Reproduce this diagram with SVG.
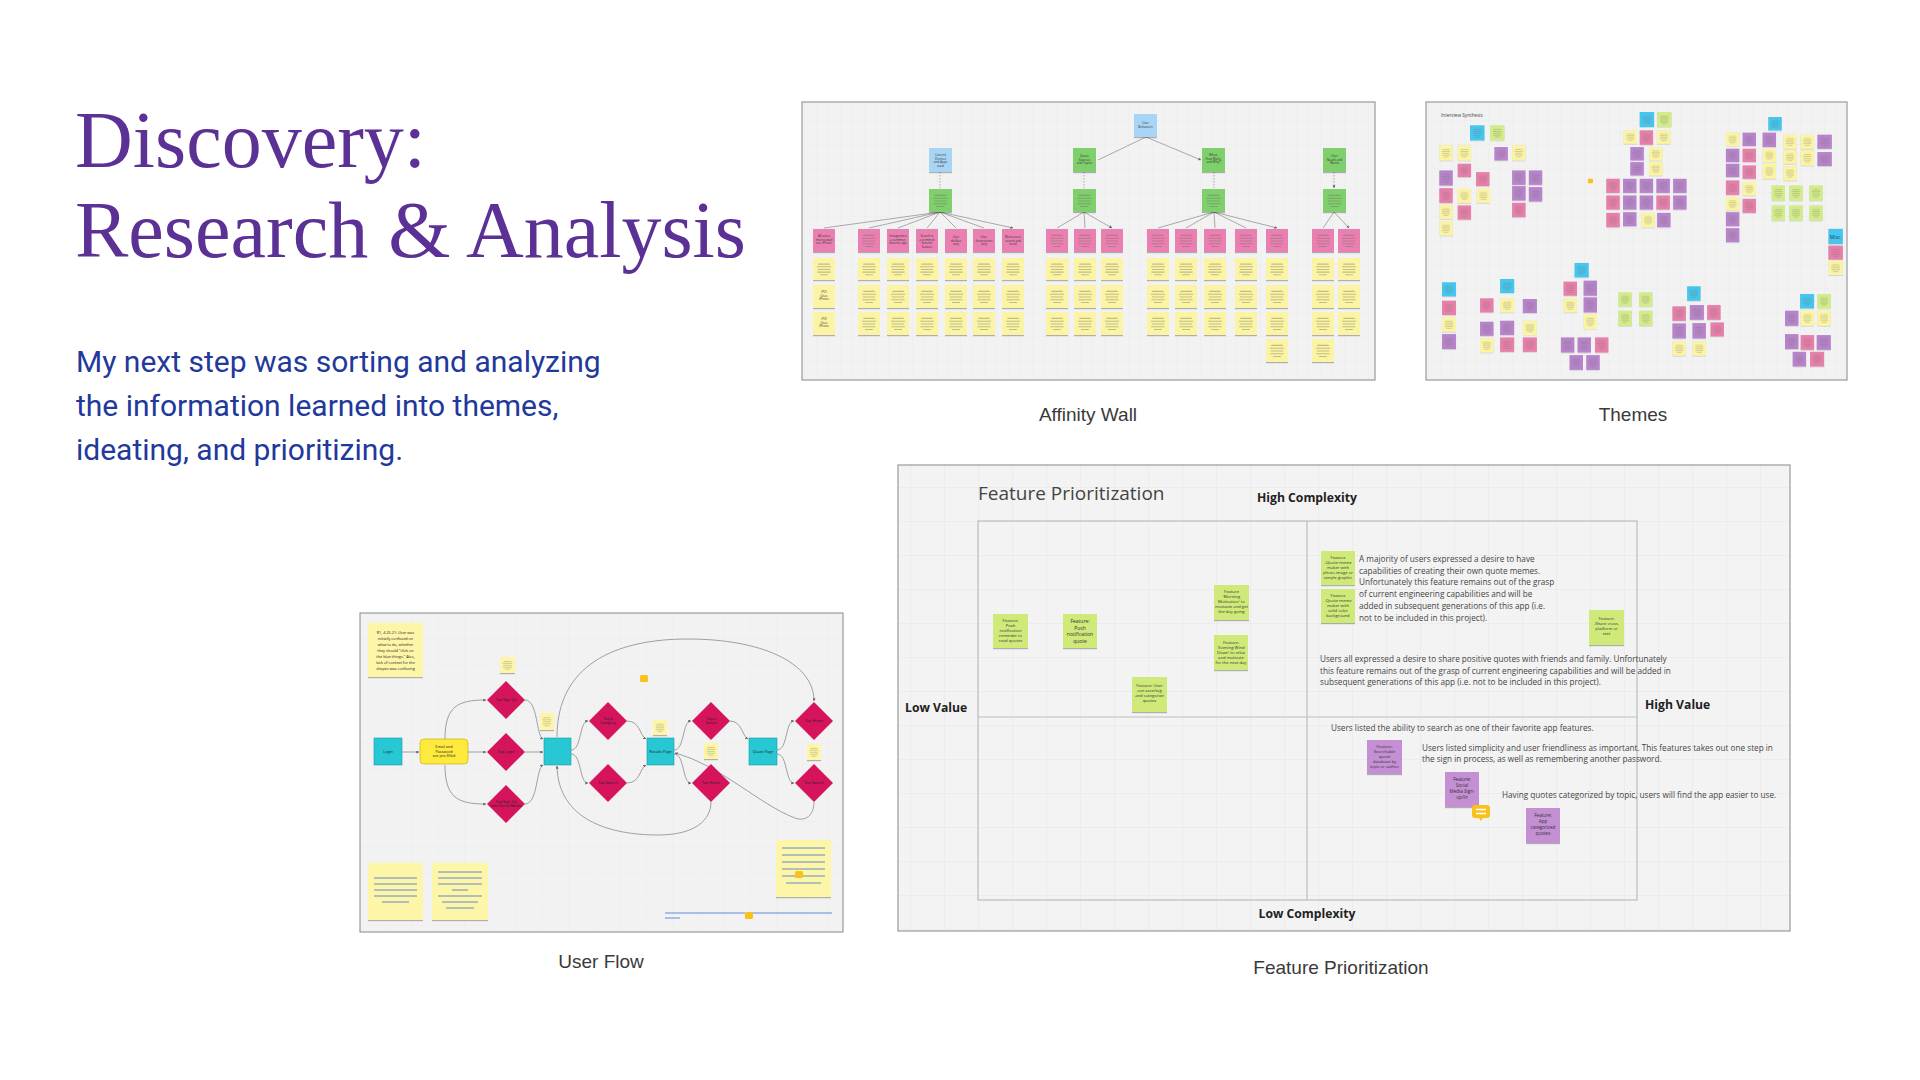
<svg xmlns="http://www.w3.org/2000/svg" width="1920" height="1080" viewBox="0 0 1920 1080">
<defs>
<style>
.title{font-family:"Liberation Serif","DejaVu Serif",serif;font-size:80px;fill:#5b3195}
.body{font-family:Roboto,"Liberation Sans",sans-serif;font-size:30px;fill:#22389b}
.cap{font-family:"Liberation Sans",Arial,sans-serif;font-size:19px;fill:#3a3a3a;text-anchor:middle}
.frame{stroke:#9a9a9a;stroke-width:1.2}
.fp{font-family:"Open Sans","Liberation Sans",sans-serif;fill:#444}
.fpb{font-family:"Open Sans","Liberation Sans",sans-serif;font-weight:700;font-size:12.2px;fill:#222}
.para{font-family:"Open Sans","Liberation Sans",sans-serif;font-size:8.2px;fill:#444}
.st{font-family:"Open Sans","Liberation Sans",sans-serif;font-size:4.2px;fill:#333;text-anchor:middle}
.uft{font-family:"Open Sans","Liberation Sans",sans-serif;font-size:3.8px;fill:#222;text-anchor:middle}
.aft{font-family:"Open Sans","Liberation Sans",sans-serif;font-size:3.1px;fill:#333;text-anchor:middle}
.g{fill:#d0ea7a}
.pu{fill:#c58fd3}
.dia{fill:#d6145c}
.sq{fill:#27c7d4;stroke:#1a9aa6;stroke-width:0.6}
.yn{fill:#fdf5a7}
.conn{fill:none;stroke:#8a8a8a;stroke-width:0.8}
.aconn{fill:none;stroke:#777;stroke-width:0.6}
.ab{fill:#a8d4f5}.agr{fill:#7fcf6c}
.tc{fill:var(--t1,#45c6ef)}.tg{fill:var(--t2,#d3ec8a)}.ty{fill:var(--t3,#fbf4a4)}.tp{fill:var(--t4,#b784cc)}.tk{fill:var(--t5,#e77fab)}
.link{stroke:#3f6fd6;stroke-width:0.8}
</style>
<filter id="sh" x="-20%" y="-20%" width="140%" height="150%"><feDropShadow dx="0" dy="1.2" stdDeviation="0.7" flood-color="#000" flood-opacity="0.28"/></filter>
<pattern id="txt" patternUnits="objectBoundingBox" patternContentUnits="objectBoundingBox" width="1" height="1"><path d="M0.24 0.28H0.76M0.18 0.4H0.82M0.22 0.52H0.78M0.2 0.64H0.8M0.32 0.76H0.68" stroke="#6f6a5a" stroke-opacity="0.4" stroke-width="0.05"/></pattern>
<pattern id="gridFP" width="34" height="34" patternUnits="userSpaceOnUse" x="978" y="521"><rect width="34" height="34" fill="#f3f3f3"/><path d="M0 0H34M0 0V34" stroke="#e2e2e2" stroke-width="0.8"/></pattern>
<pattern id="gridS" width="12" height="12" patternUnits="userSpaceOnUse"><rect width="12" height="12" fill="#f2f2f2"/><path d="M0 0H12M0 0V12" stroke="#e6e6e6" stroke-width="0.5"/></pattern>
<pattern id="gridUF" width="26" height="26" patternUnits="userSpaceOnUse" x="360" y="613"><rect width="26" height="26" fill="#f2f2f2"/><path d="M0 0H26M0 0V26" stroke="#e7e7e7" stroke-width="0.6"/></pattern>
<marker id="ah" viewBox="0 0 6 6" refX="5.5" refY="3" markerWidth="3" markerHeight="3" orient="auto" markerUnits="userSpaceOnUse"><path d="M0 0L6 3L0 6Z" fill="#666"/></marker>
<g id="apkT">
<rect x="858" y="229" width="22" height="23"/>
<rect x="1046" y="229" width="22" height="23"/><rect x="1074" y="229" width="22" height="23"/><rect x="1101" y="229" width="22" height="23"/>
<rect x="1147" y="229" width="22" height="23"/><rect x="1175" y="229" width="22" height="23"/><rect x="1204" y="229" width="22" height="23"/><rect x="1235" y="229" width="22" height="23"/><rect x="1266" y="229" width="22" height="23"/>
<rect x="1312" y="229" width="22" height="23"/><rect x="1338" y="229" width="22" height="23"/>
</g>
<g id="apkN">
<rect x="813" y="229" width="22" height="23"/><rect x="887" y="229" width="22" height="23"/><rect x="916" y="229" width="22" height="23"/><rect x="945" y="229" width="22" height="23"/><rect x="973" y="229" width="22" height="23"/><rect x="1002" y="229" width="22" height="23"/>
</g>
<g id="ayT">
<rect x="813" y="258" width="22" height="22"/><rect x="858" y="258" width="22" height="22"/><rect x="887" y="258" width="22" height="22"/><rect x="916" y="258" width="22" height="22"/><rect x="945" y="258" width="22" height="22"/><rect x="973" y="258" width="22" height="22"/><rect x="1002" y="258" width="22" height="22"/><rect x="1046" y="258" width="22" height="22"/><rect x="1074" y="258" width="22" height="22"/><rect x="1101" y="258" width="22" height="22"/><rect x="1147" y="258" width="22" height="22"/><rect x="1175" y="258" width="22" height="22"/><rect x="1204" y="258" width="22" height="22"/><rect x="1235" y="258" width="22" height="22"/><rect x="1266" y="258" width="22" height="22"/><rect x="1312" y="258" width="22" height="22"/><rect x="1338" y="258" width="22" height="22"/>
<rect x="858" y="285" width="22" height="23"/><rect x="887" y="285" width="22" height="23"/><rect x="916" y="285" width="22" height="23"/><rect x="945" y="285" width="22" height="23"/><rect x="973" y="285" width="22" height="23"/><rect x="1002" y="285" width="22" height="23"/><rect x="1046" y="285" width="22" height="23"/><rect x="1074" y="285" width="22" height="23"/><rect x="1101" y="285" width="22" height="23"/><rect x="1147" y="285" width="22" height="23"/><rect x="1175" y="285" width="22" height="23"/><rect x="1204" y="285" width="22" height="23"/><rect x="1235" y="285" width="22" height="23"/><rect x="1266" y="285" width="22" height="23"/><rect x="1312" y="285" width="22" height="23"/><rect x="1338" y="285" width="22" height="23"/>
<rect x="858" y="312" width="22" height="23"/><rect x="887" y="312" width="22" height="23"/><rect x="916" y="312" width="22" height="23"/><rect x="945" y="312" width="22" height="23"/><rect x="973" y="312" width="22" height="23"/><rect x="1002" y="312" width="22" height="23"/><rect x="1046" y="312" width="22" height="23"/><rect x="1074" y="312" width="22" height="23"/><rect x="1101" y="312" width="22" height="23"/><rect x="1147" y="312" width="22" height="23"/><rect x="1175" y="312" width="22" height="23"/><rect x="1204" y="312" width="22" height="23"/><rect x="1235" y="312" width="22" height="23"/><rect x="1266" y="312" width="22" height="23"/><rect x="1312" y="312" width="22" height="23"/><rect x="1338" y="312" width="22" height="23"/>
<rect x="1266" y="339" width="22" height="23"/><rect x="1312" y="339" width="22" height="23"/>
</g>
<g id="ayN">
<rect x="813" y="285" width="22" height="23"/><rect x="813" y="312" width="22" height="23"/>
</g>
</defs>
<rect width="1920" height="1080" fill="#ffffff"/>

<g id="heading">
<text class="title" x="75" y="167">Discovery:</text>
<text class="title" x="75" y="257">Research &amp; Analysis</text>
<text class="body" x="76" y="372">My next step was sorting and analyzing</text>
<text class="body" x="76" y="416">the information learned into themes,</text>
<text class="body" x="76" y="460">ideating, and prioritizing.</text>
</g>

<!-- Affinity Wall -->
<g id="affinity-wall">
<rect x="802" y="102" width="573" height="278" fill="url(#gridS)" class="frame"/>
<g class="aconn">
<path d="M1146 137L1098 160M1146 137L1201 160" marker-end="url(#ah)"/>
<path d="M940 172V188M1084 172V188M1214 172V188M1334 172V188" stroke-dasharray="1.5 1.5" marker-end="url(#ah)"/>
<path d="M940 212L824 228M940 212L869 228M940 212L898 228M940 212L927 228M940 212L956 228M940 212L984 228M940 212L1013 228" marker-end="url(#ah)"/>
<path d="M1084 212L1057 228M1084 212L1085 228M1084 212L1112 228" marker-end="url(#ah)"/>
<path d="M1214 212L1158 228M1214 212L1186 228M1214 212L1215 228M1214 212L1246 228M1214 212L1277 228" marker-end="url(#ah)"/>
<path d="M1334 212L1323 228M1334 212L1349 228" marker-end="url(#ah)"/>
</g>
<g filter="url(#sh)">
<rect class="ab" x="1134" y="114" width="23" height="23"/>
<rect class="ab" x="929" y="148" width="23" height="24"/>
<rect class="agr" x="1073" y="148" width="23" height="24"/>
<rect class="agr" x="1202" y="148" width="23" height="24"/>
<rect class="agr" x="1323" y="148" width="23" height="24"/>
<rect class="agr" x="929" y="189" width="23" height="23"/>
<rect class="agr" x="1073" y="189" width="23" height="23"/>
<rect class="agr" x="1202" y="189" width="23" height="23"/>
<rect class="agr" x="1323" y="189" width="23" height="23"/>
<use href="#apkT" fill="#ea80b2"/>
<use href="#apkN" fill="#ea80b2"/>
<use href="#ayT" fill="#fbf4a4"/>
<use href="#ayN" fill="#fbf4a4"/>
</g>
<use href="#apkT" fill="url(#txt)"/>
<use href="#ayT" fill="url(#txt)"/>
<rect x="929" y="189" width="23" height="23" fill="url(#txt)"/>
<rect x="1073" y="189" width="23" height="23" fill="url(#txt)"/>
<rect x="1202" y="189" width="23" height="23" fill="url(#txt)"/>
<rect x="1323" y="189" width="23" height="23" fill="url(#txt)"/>
<g class="aft">
<text x="1145.5" y="124">User<tspan x="1145.5" dy="3.6">Behaviors</tspan></text>
<text x="940.5" y="156">Current<tspan x="940.5" dy="3.6">Devices</tspan><tspan x="940.5" dy="3.6">and Apps</tspan><tspan x="940.5" dy="3.6">used</tspan></text>
<text x="1084.5" y="157">Quote<tspan x="1084.5" dy="3.6">Sources</tspan><tspan x="1084.5" dy="3.6">and Topics</tspan></text>
<text x="1213.5" y="156">When,<tspan x="1213.5" dy="3.6">How Many,</tspan><tspan x="1213.5" dy="3.6">and Why?</tspan></text>
<text x="1334.5" y="157">User<tspan x="1334.5" dy="3.6">Needs and</tspan><tspan x="1334.5" dy="3.6">Wants</tspan></text>
<text x="824" y="237">All users<tspan x="824" dy="3.6">interviewed</tspan><tspan x="824" dy="3.6">use iPhone</tspan></text>
<text x="898" y="237">Instagram is<tspan x="898" dy="3.6">a common</tspan><tspan x="898" dy="3.6">favorite app</tspan></text>
<text x="927" y="237">Search is<tspan x="927" dy="3.6">a common</tspan><tspan x="927" dy="3.6">favorite</tspan><tspan x="927" dy="3.6">feature</tspan></text>
<text x="956" y="238">User<tspan x="956" dy="3.6">dislikes</tspan><tspan x="956" dy="3.6">vary</tspan></text>
<text x="984" y="238">User<tspan x="984" dy="3.6">frustrations</tspan><tspan x="984" dy="3.6">vary</tspan></text>
<text x="1013" y="238">Most users<tspan x="1013" dy="3.6">search and</tspan><tspan x="1013" dy="3.6">scroll</tspan></text>
<text x="824" y="293">(P2)<tspan x="824" dy="3.6">Uses</tspan><tspan x="824" dy="3.6">iPhone</tspan></text>
<text x="824" y="320">(P3)<tspan x="824" dy="3.6">Uses</tspan><tspan x="824" dy="3.6">iPhone</tspan></text>
</g>
</g>
<text class="cap" x="1088" y="421">Affinity Wall</text>

<!-- Themes -->
<g id="themes">
<rect x="1426" y="102" width="421" height="278" fill="url(#gridS)" class="frame"/>
<g transform="translate(1419.3 95.3) scale(0.334)">
<text x="65" y="64" font-family="Open Sans, Liberation Sans, sans-serif" font-size="14" fill="#444">Interview Synthesis</text>
<g filter="url(#sh)">
<g id="tn">
<rect class="tc" x="152" y="90" width="43" height="45"/><rect class="tg" x="212" y="90" width="43" height="45"/>
<rect class="ty" x="60" y="150" width="40" height="45"/><rect class="ty" x="115" y="150" width="40" height="45"/>
<rect class="tp" x="225" y="155" width="40" height="40"/><rect class="ty" x="278" y="150" width="40" height="45"/>
<rect class="tk" x="115" y="205" width="40" height="40"/>
<rect class="tp" x="60" y="225" width="40" height="45"/><rect class="tk" x="170" y="230" width="40" height="42"/>
<rect class="tp" x="278" y="225" width="40" height="43"/><rect class="tp" x="328" y="225" width="40" height="43"/>
<rect class="tk" x="60" y="278" width="40" height="44"/><rect class="ty" x="115" y="280" width="40" height="42"/><rect class="ty" x="172" y="280" width="40" height="42"/>
<rect class="tp" x="278" y="272" width="40" height="43"/><rect class="tp" x="328" y="275" width="40" height="43"/>
<rect class="ty" x="60" y="328" width="40" height="42"/><rect class="tk" x="115" y="330" width="40" height="42"/>
<rect class="tk" x="278" y="322" width="40" height="43"/>
<rect class="ty" x="60" y="378" width="40" height="42"/>

<rect class="tc" x="660" y="50" width="43" height="45"/><rect class="tg" x="712" y="50" width="43" height="45"/>
<rect class="ty" x="612" y="105" width="40" height="40"/><rect class="tk" x="660" y="105" width="40" height="43"/><rect class="ty" x="712" y="105" width="40" height="40"/>
<rect class="tp" x="632" y="155" width="40" height="40"/><rect class="ty" x="688" y="155" width="40" height="40"/>
<rect class="tp" x="632" y="200" width="40" height="40"/><rect class="ty" x="688" y="200" width="40" height="40"/>
<rect class="tk" x="560" y="250" width="40" height="42"/><rect class="tp" x="610" y="250" width="40" height="42"/><rect class="tp" x="660" y="250" width="40" height="42"/><rect class="tp" x="710" y="250" width="40" height="42"/><rect class="tp" x="760" y="250" width="40" height="42"/>
<rect class="tk" x="560" y="300" width="40" height="42"/><rect class="tp" x="610" y="300" width="40" height="42"/><rect class="tp" x="660" y="300" width="40" height="42"/><rect class="tk" x="710" y="300" width="40" height="42"/><rect class="tp" x="760" y="300" width="40" height="42"/>
<rect class="tk" x="560" y="352" width="40" height="43"/><rect class="tp" x="610" y="350" width="40" height="42"/><rect class="ty" x="665" y="352" width="40" height="43"/><rect class="tp" x="712" y="352" width="40" height="43"/>

<rect class="tc" x="1045" y="65" width="40" height="40"/>
<rect class="ty" x="918" y="112" width="40" height="40"/><rect class="tp" x="968" y="112" width="40" height="40"/><rect class="tp" x="1028" y="112" width="40" height="43"/><rect class="ty" x="1090" y="118" width="40" height="42"/><rect class="ty" x="1142" y="118" width="40" height="42"/><rect class="tp" x="1192" y="118" width="43" height="42"/>
<rect class="tp" x="918" y="160" width="40" height="40"/><rect class="tk" x="968" y="160" width="40" height="40"/><rect class="ty" x="1028" y="160" width="40" height="40"/><rect class="ty" x="1090" y="165" width="40" height="40"/><rect class="ty" x="1142" y="165" width="40" height="45"/><rect class="tp" x="1192" y="170" width="43" height="42"/>
<rect class="tp" x="918" y="205" width="40" height="40"/><rect class="tk" x="968" y="210" width="40" height="40"/><rect class="ty" x="1028" y="205" width="40" height="45"/><rect class="ty" x="1090" y="212" width="40" height="43"/>
<rect class="tk" x="918" y="255" width="40" height="43"/><rect class="ty" x="968" y="260" width="40" height="40"/><rect class="tg" x="1055" y="270" width="40" height="45"/><rect class="tg" x="1108" y="270" width="40" height="45"/><rect class="tg" x="1168" y="270" width="40" height="45"/>
<rect class="ty" x="918" y="305" width="40" height="40"/><rect class="tk" x="968" y="310" width="40" height="42"/><rect class="tg" x="1055" y="330" width="40" height="45"/><rect class="tg" x="1108" y="330" width="40" height="45"/><rect class="tg" x="1168" y="330" width="40" height="45"/>
<rect class="tp" x="918" y="350" width="40" height="42"/>
<rect class="tp" x="918" y="398" width="40" height="42"/>
<rect class="tk" x="1225" y="450" width="43" height="42"/><rect class="ty" x="1225" y="495" width="43" height="43"/>

<rect class="tc" x="68" y="560" width="42" height="42"/><rect class="tk" x="68" y="615" width="42" height="43"/><rect class="ty" x="68" y="665" width="42" height="43"/><rect class="tp" x="68" y="715" width="42" height="45"/>
<rect class="tc" x="242" y="550" width="42" height="42"/>
<rect class="tk" x="182" y="608" width="40" height="42"/><rect class="ty" x="242" y="608" width="42" height="42"/><rect class="tp" x="310" y="610" width="42" height="42"/>
<rect class="tp" x="182" y="678" width="40" height="42"/><rect class="tp" x="242" y="675" width="42" height="43"/><rect class="ty" x="310" y="675" width="42" height="43"/>
<rect class="ty" x="182" y="728" width="40" height="42"/><rect class="tk" x="242" y="725" width="42" height="43"/><rect class="tk" x="310" y="725" width="42" height="43"/>

<rect class="tc" x="465" y="502" width="42" height="43"/>
<rect class="tk" x="432" y="558" width="40" height="42"/><rect class="tp" x="492" y="555" width="40" height="45"/>
<rect class="ty" x="432" y="608" width="40" height="42"/><rect class="tp" x="492" y="605" width="40" height="45"/>
<rect class="ty" x="492" y="655" width="40" height="45"/>
<rect class="tg" x="596" y="590" width="40" height="42"/><rect class="tg" x="658" y="590" width="40" height="42"/>
<rect class="tg" x="596" y="645" width="40" height="45"/><rect class="tg" x="658" y="645" width="40" height="45"/>
<rect class="tp" x="424" y="725" width="40" height="45"/><rect class="tp" x="474" y="725" width="40" height="45"/><rect class="tk" x="526" y="725" width="40" height="45"/>
<rect class="tp" x="450" y="778" width="40" height="44"/><rect class="tp" x="500" y="778" width="40" height="44"/>

<rect class="tc" x="802" y="572" width="40" height="43"/>
<rect class="tk" x="758" y="632" width="40" height="43"/><rect class="tp" x="810" y="628" width="42" height="44"/><rect class="tk" x="862" y="628" width="40" height="44"/>
<rect class="tp" x="758" y="683" width="40" height="45"/><rect class="tp" x="818" y="682" width="40" height="46"/><rect class="tk" x="872" y="680" width="40" height="42"/>
<rect class="ty" x="758" y="737" width="40" height="43"/><rect class="ty" x="818" y="737" width="40" height="43"/>

<rect class="tc" x="1140" y="595" width="42" height="43"/><rect class="tg" x="1192" y="595" width="40" height="43"/>
<rect class="tp" x="1095" y="645" width="40" height="45"/><rect class="ty" x="1142" y="645" width="40" height="45"/><rect class="ty" x="1192" y="645" width="40" height="45"/>
<rect class="tp" x="1095" y="715" width="40" height="45"/><rect class="tk" x="1142" y="718" width="40" height="44"/><rect class="tp" x="1190" y="718" width="42" height="44"/>
<rect class="tp" x="1118" y="768" width="40" height="44"/><rect class="tk" x="1170" y="768" width="42" height="44"/>
</g>
<rect class="tc" x="1225" y="400" width="43" height="45"/>
</g>
<use href="#tn" style="--t1:url(#txt);--t2:url(#txt);--t3:url(#txt);--t4:url(#txt);--t5:url(#txt)"/>
<rect x="505" y="250" width="15" height="13" rx="2" fill="#f7c21b"/>
<text x="1246.5" y="430" font-family="Open Sans, Liberation Sans, sans-serif" font-size="15" fill="#1b3c66" text-anchor="middle">Misc.</text>
</g>
</g>
<text class="cap" x="1633" y="421">Themes</text>

<!-- User Flow -->
<g id="user-flow">
<rect x="360" y="613" width="483" height="319" fill="url(#gridUF)" class="frame"/>
<g id="uf-connectors" class="conn">
<path d="M402 752H419" marker-end="url(#ah)"/>
<path d="M468 752H486" marker-end="url(#ah)"/>
<path d="M445 739C445 706 458 700 486 700" marker-end="url(#ah)"/>
<path d="M445 765C445 798 458 804 486 804" marker-end="url(#ah)"/>
<path d="M525 700C538 700 536 736 543 739" marker-end="url(#ah)"/>
<path d="M525 752H543" marker-end="url(#ah)"/>
<path d="M525 804C538 804 536 768 543 765" marker-end="url(#ah)"/>
<path d="M571 750C582 750 579 721 588 721" marker-end="url(#ah)"/>
<path d="M571 754C582 754 579 783 588 783" marker-end="url(#ah)"/>
<path d="M627 721C640 721 640 736 646 739" marker-end="url(#ah)"/>
<path d="M627 783C640 783 640 768 646 765" marker-end="url(#ah)"/>
<path d="M674 750C685 750 682 721 691 721" marker-end="url(#ah)"/>
<path d="M674 754C685 754 682 783 691 783" marker-end="url(#ah)"/>
<path d="M730 721C742 721 742 736 748 739" marker-end="url(#ah)"/>
<path d="M777 750C788 750 785 721 794 721" marker-end="url(#ah)"/>
<path d="M777 754C788 754 785 783 794 783" marker-end="url(#ah)"/>
<path d="M557 737C557 665 615 639 688 639C760 639 814 662 814 701" marker-end="url(#ah)"/>
<path d="M711 802C711 820 695 835 658 835C610 835 558 820 557 766" marker-end="url(#ah)"/>
<path d="M814 802C814 815 806 822 795 818C760 805 720 765 675 753" marker-end="url(#ah)"/>
</g>
<g filter="url(#sh)">
<rect class="yn" x="368" y="623" width="55" height="54"/>
<rect class="yn" x="500" y="657" width="15" height="16"/>
<rect class="yn" x="540" y="713" width="14" height="17"/>
<rect class="yn" x="653" y="720" width="14" height="15"/>
<rect class="yn" x="704" y="743" width="14" height="16"/>
<rect class="yn" x="807" y="744" width="14" height="16"/>
<rect class="yn" x="368" y="863" width="55" height="57"/>
<rect class="yn" x="432" y="863" width="56" height="57"/>
<rect class="yn" x="776" y="840" width="55" height="57"/>
</g>
<rect x="500" y="657" width="15" height="16" fill="url(#txt)"/>
<rect x="540" y="713" width="14" height="17" fill="url(#txt)"/>
<rect x="653" y="720" width="14" height="15" fill="url(#txt)"/>
<rect x="704" y="743" width="14" height="16" fill="url(#txt)"/>
<rect x="807" y="744" width="14" height="16" fill="url(#txt)"/>
<text class="uft" x="395.5" y="634" font-size="4">R1, 4.25.21: User was<tspan x="395.5" dy="6">initially confused on</tspan><tspan x="395.5" dy="6">what to do, whether</tspan><tspan x="395.5" dy="6">they should "click on</tspan><tspan x="395.5" dy="6">the blue things." Also,</tspan><tspan x="395.5" dy="6">lack of context for the</tspan><tspan x="395.5" dy="6">shapes was confusing</tspan></text>
<g class="link">
<path d="M374 878H417M374 884H417M374 890H417M374 896H417M382 902H409"/>
<path d="M438 872H482M438 878H482M438 884H482M452 890H468M438 896H482M442 902H478M446 908H474"/>
<path d="M782 848H825M782 855H825M782 862H825M782 869H825M782 876H825M786 883H821"/>
<path d="M665 913H745M752 913H832M665 918H680"/>
</g>
<g id="uf-nodes">
<rect id="login" class="sq" x="374" y="738" width="28" height="27"/>
<text class="uft" x="388" y="753">Login</text>
<rect id="email" x="420" y="739" width="48" height="25" rx="4" fill="#ffe93c" stroke="#c1a900" stroke-width="0.6"/>
<text class="uft" x="444" y="748">Email and<tspan x="444" dy="4.5">Password</tspan><tspan x="444" dy="4.5">are pre-filled</tspan></text>
<polygon id="d1" class="dia" points="506,681 525,700 506,719 487,700"/>
<polygon id="d2" class="dia" points="506,733 525,752 506,771 487,752"/>
<polygon id="d3" class="dia" points="506,785 525,804 506,823 487,804"/>
<polygon id="d4" class="dia" points="608,702 627,721 608,740 589,721"/>
<polygon id="d5" class="dia" points="608,764 627,783 608,802 589,783"/>
<polygon id="d6" class="dia" points="711,702 730,721 711,740 692,721"/>
<polygon id="d7" class="dia" points="711,764 730,783 711,802 692,783"/>
<polygon id="d8" class="dia" points="814,702 833,721 814,740 795,721"/>
<polygon id="d9" class="dia" points="814,764 833,783 814,802 795,783"/>
<rect id="home" class="sq" x="544" y="738" width="27" height="27"/>
<rect id="results" class="sq" x="647" y="738" width="27" height="27"/>
<rect id="quote" class="sq" x="749" y="738" width="28" height="27"/>
<g class="uft" font-size="3.4">
<text x="506" y="701">Tap Sign Up</text>
<text x="506" y="753">Tap Login</text>
<text x="506" y="803">Tap Sign Up<tspan x="506" dy="4">with Social Media</tspan></text>
<text x="608" y="720">Tap a<tspan x="608" dy="4">Category</tspan></text>
<text x="608" y="784">Tap Search</text>
<text x="711" y="720">Tap a<tspan x="711" dy="4">Quote</tspan></text>
<text x="711" y="784">Tap Home</text>
<text x="814" y="722">Tap Home</text>
<text x="814" y="784">Tap Search</text>
<text x="660.5" y="753">Results Page</text>
<text x="763" y="753">Quote Page</text>
</g>
</g>
<rect x="640" y="675" width="8" height="7" rx="1.5" fill="#f7c21b"/>
<rect x="795" y="871" width="8" height="7" rx="1.5" fill="#f7c21b"/>
<rect x="745" y="912" width="8" height="7" rx="1.5" fill="#f7c21b"/>
</g>
<text class="cap" x="601" y="968">User Flow</text>

<!-- Feature Prioritization -->
<g id="feature-prioritization">
<rect x="898" y="465" width="892" height="466" fill="url(#gridFP)" class="frame"/>
<text class="fp" x="978" y="500" font-size="19" fill="#555">Feature Prioritization</text>
<text class="fpb" x="1307" y="502" text-anchor="middle">High Complexity</text>
<text class="fpb" x="1307" y="918" text-anchor="middle">Low Complexity</text>
<text class="fpb" x="905" y="712">Low Value</text>
<text class="fpb" x="1645" y="709">High Value</text>
<rect x="978" y="521" width="659" height="379" fill="none" stroke="#bdbdbd" stroke-width="1.2"/>
<path d="M1307 521V900M978 717H1637" stroke="#bdbdbd" stroke-width="1.2"/>
<text class="para" x="1359" y="562">A majority of users expressed a desire to have<tspan x="1359" dy="11.7">capabilities of creating their own quote memes.</tspan><tspan x="1359" dy="11.7">Unfortunately this feature remains out of the grasp</tspan><tspan x="1359" dy="11.7">of current engineering capabilities and will be</tspan><tspan x="1359" dy="11.7">added in subsequent generations of this app (i.e.</tspan><tspan x="1359" dy="11.7">not to be included in this project).</tspan></text>
<text class="para" x="1320" y="662">Users all expressed a desire to share positive quotes with friends and family. Unfortunately<tspan x="1320" dy="11.5">this feature remains out of the grasp of current engineering capabilities and will be added in</tspan><tspan x="1320" dy="11.5">subsequent generations of this app (i.e. not to be included in this project).</tspan></text>
<text class="para" x="1331" y="731">Users listed the ability to search as one of their favorite app features.</text>
<text class="para" x="1422" y="751">Users listed simplicity and user friendliness as important. This features takes out one step in<tspan x="1422" dy="11.3">the sign in process, as well as remembering another password.</tspan></text>
<text class="para" x="1502" y="798">Having quotes categorized by topic, users will find the app easier to use.</text>
<g filter="url(#sh)">
<rect class="g" x="993" y="614" width="35" height="34"/>
<rect class="g" x="1063" y="614" width="34" height="34"/>
<rect class="g" x="1132" y="677" width="35" height="35"/>
<rect class="g" x="1214" y="585" width="35" height="35"/>
<rect class="g" x="1214" y="635" width="34" height="35"/>
<rect class="g" x="1321" y="551" width="34" height="34"/>
<rect class="g" x="1321" y="589" width="34" height="34"/>
<rect class="g" x="1589" y="610" width="35" height="35"/>
<rect class="pu" x="1367" y="740" width="35" height="34"/>
<rect class="pu" x="1445" y="772" width="34" height="35"/>
<rect class="pu" x="1526" y="808" width="34" height="35"/>
</g>
<g class="st">
<text x="1010.5" y="622">Feature:<tspan x="1010.5" dy="5">Push</tspan><tspan x="1010.5" dy="5">notification</tspan><tspan x="1010.5" dy="5">reminder to</tspan><tspan x="1010.5" dy="5">read quotes</tspan></text>
<text x="1080" y="623" font-size="5">Feature:<tspan x="1080" dy="6.5">Push</tspan><tspan x="1080" dy="6.5">notification</tspan><tspan x="1080" dy="6.5">quote</tspan></text>
<text x="1149.5" y="687">Feature: User<tspan x="1149.5" dy="5">can save/tag</tspan><tspan x="1149.5" dy="5">and categorize</tspan><tspan x="1149.5" dy="5">quotes</tspan></text>
<text x="1231.5" y="593">Feature<tspan x="1231.5" dy="5">'Morning</tspan><tspan x="1231.5" dy="5">Motivation' to</tspan><tspan x="1231.5" dy="5">motivate and get</tspan><tspan x="1231.5" dy="5">the day going</tspan></text>
<text x="1231" y="644">Feature:<tspan x="1231" dy="5">'Evening Wind</tspan><tspan x="1231" dy="5">Down' to relax</tspan><tspan x="1231" dy="5">and motivate</tspan><tspan x="1231" dy="5">for the next day</tspan></text>
<text x="1338" y="559">Feature<tspan x="1338" dy="5">-Quote meme</tspan><tspan x="1338" dy="5">maker with</tspan><tspan x="1338" dy="5">photo image or</tspan><tspan x="1338" dy="5">simple graphic</tspan></text>
<text x="1338" y="597">Feature<tspan x="1338" dy="5">-Quote meme</tspan><tspan x="1338" dy="5">maker with</tspan><tspan x="1338" dy="5">solid color</tspan><tspan x="1338" dy="5">background</tspan></text>
<text x="1606.5" y="620">Feature:<tspan x="1606.5" dy="5">-Share cross-</tspan><tspan x="1606.5" dy="5">platform or</tspan><tspan x="1606.5" dy="5">text</tspan></text>
<text x="1384.5" y="748">Feature:<tspan x="1384.5" dy="5">Searchable</tspan><tspan x="1384.5" dy="5">quote</tspan><tspan x="1384.5" dy="5">database by</tspan><tspan x="1384.5" dy="5">topic or author</tspan></text>
<text x="1462" y="781" font-size="4.6">Feature:<tspan x="1462" dy="6">Social</tspan><tspan x="1462" dy="6">Media Sign-</tspan><tspan x="1462" dy="6">up/In</tspan></text>
<text x="1543" y="817" font-size="4.6">Feature:<tspan x="1543" dy="6">App</tspan><tspan x="1543" dy="6">categorized</tspan><tspan x="1543" dy="6">quotes</tspan></text>
</g>
<g id="comment-icon">
<rect x="1472" y="805" width="18" height="13" rx="3" fill="#f7c21b"/>
<path d="M1479 818L1481 821L1483 818Z" fill="#f7c21b"/>
<path d="M1476 809.5H1486M1476 813.5H1486" stroke="#fff" stroke-width="1.3"/>
</g>
</g>
<text class="cap" x="1341" y="974">Feature Prioritization</text>
</svg>
